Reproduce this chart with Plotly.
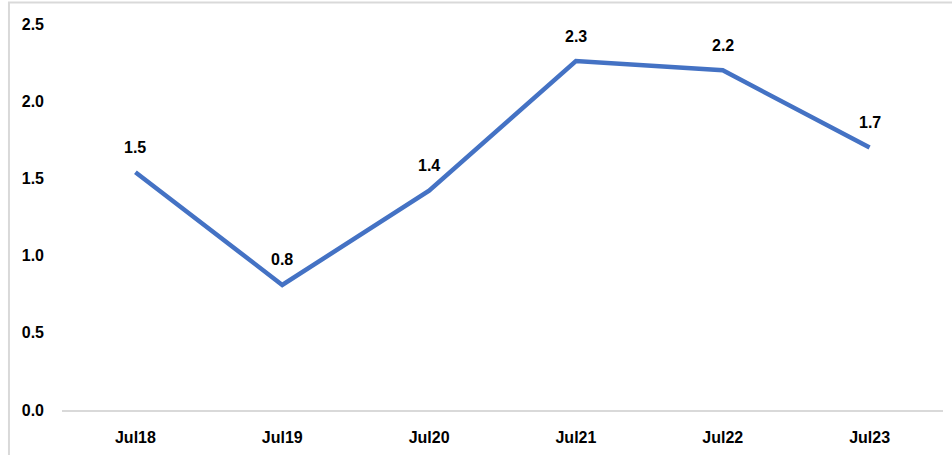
import plotly.graph_objects as go

categories = ["Jul18", "Jul19", "Jul20", "Jul21", "Jul22", "Jul23"]
values = [1.54, 0.81, 1.42, 2.26, 2.20, 1.70]
labels = [f"{v:.1f}" for v in values]
y_ticks = [0.0, 0.5, 1.0, 1.5, 2.0, 2.5]
y_tick_text = [f"{t:.1f}" for t in y_ticks]

FONT = "Liberation Sans"

fig = go.Figure()
fig.add_trace(go.Scatter(
    x=categories, y=values, mode="lines",
    line=dict(color="#4472C4", width=4.5),
    hoverinfo="skip", showlegend=False,
))

for c, v, t in zip(categories, values, labels):
    fig.add_annotation(x=c, y=v, text=f"<b>{t}</b>", showarrow=False,
                       yshift=25, font=dict(family=FONT, size=16, color="#000000"))

fig.add_shape(type="rect", xref="paper", yref="paper",
              x0=-0.0602, x1=1.2, y0=-0.3, y1=1.0557,
              line=dict(color="#d9d9d9", width=2), fillcolor="rgba(0,0,0,0)",
              layer="below")

fig.update_layout(
    width=952, height=455,
    margin=dict(l=62, r=9, t=24, b=45),
    paper_bgcolor="white", plot_bgcolor="white",
    font=dict(family=FONT, size=16, color="#000000"),
    xaxis=dict(
        type="category", range=[-0.5, 5.5], showgrid=False, showline=True,
        linecolor="#d9d9d9", linewidth=2, ticks="",
        tickfont=dict(family=FONT, size=16, color="#000000", weight="bold"),
        ticklabelstandoff=12, automargin=False,
        fixedrange=True,
    ),
    yaxis=dict(
        range=[0, 2.5], tickvals=y_ticks, ticktext=y_tick_text,
        showgrid=False, zeroline=False, showline=False, ticks="",
        tickfont=dict(family=FONT, size=16, color="#000000", weight="bold"),
        ticklabelstandoff=17, automargin=False,
        fixedrange=True,
    ),
)

fig.write_html("out.html")
